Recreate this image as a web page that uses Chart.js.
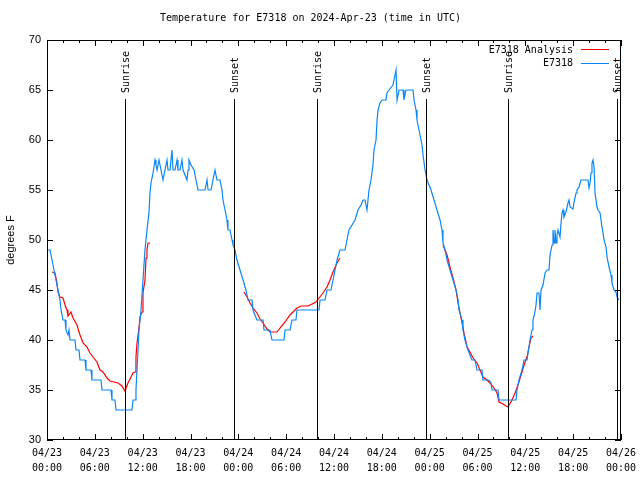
<!DOCTYPE html>
<html>
<head>
<meta charset="utf-8">
<script src="https://cdn.jsdelivr.net/npm/chart.js@4.4.1/dist/chart.umd.min.js"></script>
<style>
  html, body { margin: 0; padding: 0; background: #fff; }
</style>
</head>
<body>
<canvas id="myChart" width="640" height="480"></canvas>
<script>
// hours since 04/23 00:00 UTC
const sensorHours = [0.00, 0.38, 0.63, 0.88, 1.13, 1.38, 1.63, 1.76, 2.01, 2.26, 2.38, 2.63, 2.76, 2.89, 3.51, 3.64, 4.01, 4.14, 4.77, 4.89,
  5.52, 5.64, 6.77, 6.90, 8.03, 8.15, 8.53, 8.66, 10.66, 10.79, 11.04, 11.16, 11.29, 11.54, 11.79, 12.04, 12.29, 12.54, 12.79, 12.92,
  13.05, 13.30, 13.55, 13.67, 13.80, 14.05, 14.30, 14.55, 14.80, 15.05, 15.18, 15.43, 15.68, 15.81, 16.06, 16.31, 16.43, 16.68, 16.93, 17.06,
  17.31, 17.56, 17.69, 17.81, 18.06, 18.44, 18.69, 18.94, 19.82, 20.07, 20.20, 20.57, 20.82, 21.07, 21.32, 21.70, 21.95, 22.08, 22.33, 22.58,
  22.70, 22.96, 23.21, 23.33, 23.58, 23.83, 24.21, 24.59, 24.96, 25.21, 25.72, 25.84, 26.34, 27.10, 27.22, 27.97, 28.22, 29.73, 29.86, 30.48,
  30.73, 31.23, 31.36, 34.12, 34.25, 34.87, 35.12, 35.62, 35.88, 36.13, 36.38, 36.75, 37.38, 37.63, 37.88, 38.26, 38.64, 39.01, 39.39, 39.64,
  39.89, 40.14, 40.39, 40.64, 40.89, 41.02, 41.27, 41.40, 41.52, 41.77, 42.02, 42.52, 42.65, 42.90, 43.40, 43.65, 43.78, 43.91, 44.16, 44.66,
  44.78, 45.03, 45.91, 46.04, 46.29, 46.41, 46.66, 46.79, 47.04, 47.17, 47.42, 47.67, 47.92, 48.17, 48.55, 48.92, 49.30, 49.55, 49.67, 49.93,
  50.18, 50.55, 50.93, 51.31, 51.56, 51.68, 52.06, 52.18, 52.43, 52.81, 53.31, 53.69, 53.94, 54.57, 54.69, 55.44, 55.70, 55.82, 56.57, 56.70,
  58.83, 58.96, 59.21, 59.58, 59.84, 60.21, 60.59, 60.84, 60.96, 61.21, 61.34, 61.47, 61.72, 61.84, 61.97, 62.22, 62.47, 62.72, 62.97, 63.10,
  63.35, 63.47, 63.60, 63.72, 63.85, 63.97, 64.10, 64.35, 64.48, 64.60, 64.73, 64.85, 65.10, 65.35, 65.48, 65.61, 65.98, 66.11, 66.36, 66.48,
  66.73, 66.98, 67.86, 67.99, 68.12, 68.24, 68.36, 68.49, 68.62, 68.74, 68.99, 69.12, 69.37, 69.62, 69.75, 69.87, 70.12, 70.25, 70.50, 70.75,
  70.87, 71.12, 71.37, 71.50, 71.75];
const sensorTemps = [49, 49, 48, 47, 46, 45, 44, 43, 42, 42, 41, 40.5, 41, 40, 40, 39, 39, 38, 38, 37,
  37, 36, 36, 35, 35, 34, 34, 33, 33, 34, 34, 35, 37, 41, 43, 46, 49, 51, 52.7, 54.7,
  55.7, 56.7, 58, 57.5, 57, 58, 57, 56, 57, 58, 57, 57, 59, 57, 57, 58, 57, 57, 58, 57,
  56.5, 56, 57, 58, 57.5, 57, 56, 55, 55, 56, 55, 55, 56, 57, 56, 56, 55, 54, 53, 52,
  51, 51, 50, 49.5, 49, 48, 47, 46, 45, 44, 44, 43, 42, 42, 41, 41, 40, 40, 41, 41,
  42, 42, 43, 43, 44, 44, 45, 45, 46, 47, 48, 49, 49, 50, 51, 51.5, 52, 53, 53.5, 54,
  54, 53, 55, 56, 57.5, 59, 60, 62, 63, 63.7, 64, 64, 64.7, 65, 65.5, 66.5, 67, 64, 65, 65,
  64, 65, 65, 64, 63, 62, 61, 60.5, 59.5, 58.5, 57, 56, 55.5, 55, 54, 53, 52, 51, 49.7, 49,
  48, 47, 46, 45, 44, 43, 42, 41, 40, 39, 38, 38, 37, 37, 36, 36, 35.7, 35, 35, 34,
  34, 35, 36, 37, 38, 38, 40, 41, 42, 42.8, 43.5, 44.7, 44.7, 43, 45, 45.5, 46.7, 47, 47, 48.5,
  49.5, 51, 49.7, 51, 49.7, 50.5, 51, 50.3, 51.7, 52.7, 53, 52.3, 52.8, 53.7, 54, 53.3, 53.1, 53.8, 54.7, 55,
  55.3, 56, 56, 55.2, 55.7, 56.7, 57.7, 58, 57.3, 54.7, 53.3, 53, 52.7, 51.3, 50.7, 50, 49.3, 48.3, 47.3, 46.5,
  45.7, 45, 44.8, 44.3, 44];

// analysis runs, null splits the three runs
const analysisHours = [0.63, 1.00, 1.25, 1.38, 1.63, 2.01, 2.26, 2.51, 2.63, 3.01, 3.26, 3.76, 4.14, 4.52, 5.02, 5.39, 5.77, 6.27, 6.65, 7.02,
  7.53, 7.90, 8.40, 8.91, 9.41, 9.78, 10.16, 10.54, 10.79, 11.04, 11.16, 11.29, 11.54, 11.67, 11.92, 12.04, 12.29, 12.42, 12.54, 12.67, 12.92,
  18.00,
  24.71, 25.09, 25.47, 25.84, 26.34, 26.72, 27.10, 27.60, 27.97, 28.35, 28.85, 29.23, 29.86, 30.48, 30.86, 31.36, 31.86, 32.74, 33.24, 33.74,
  34.12, 34.62, 35.12, 35.50, 35.88, 36.38, 36.75,
  42.00,
  49.67, 50.18, 50.55, 50.93, 51.31, 51.56, 51.81, 52.06, 52.31, 52.69, 53.06, 53.44, 53.94, 54.32, 54.69, 55.19, 55.57, 56.07, 56.45, 56.70,
  57.20, 57.58, 57.83, 58.33, 58.71, 59.08, 59.58, 59.96, 60.21, 60.46, 60.71, 60.96];
const analysisTemps = [46.8, 46.7, 45.7, 44.8, 44.3, 44.2, 43.5, 43, 42.4, 42.8, 42.2, 41.5, 40.5, 39.7, 39.3, 38.7, 38.3, 37.8, 37, 36.8,
  36.2, 35.9, 35.8, 35.7, 35.4, 34.9, 35.7, 36.3, 36.7, 36.8, 38.3, 39.7, 41.2, 42.3, 42.8, 44.7, 46, 48.2, 49, 49.7, 49.7,
  null,
  44.8, 44.3, 43.7, 43.2, 42.7, 42.1, 41.7, 41.1, 40.8, 40.8, 40.8, 41.2, 41.8, 42.5, 42.8, 43.2, 43.4, 43.4, 43.6, 43.8,
  44.2, 44.7, 45.3, 46, 46.8, 47.7, 48.2,
  null,
  49.5, 48.5, 47.3, 46.2, 45, 43.7, 42.7, 41.7, 40.7, 39.3, 38.8, 38.2, 37.7, 37, 36.3, 36, 35.7, 35.2, 34.7, 33.8,
  33.6, 33.4, 33.3, 34, 34.7, 35.5, 36.8, 37.8, 38.3, 39.3, 40.2, 40.4];

const sunHours = [9.82, 23.49, 33.90, 47.58, 57.86, 71.54];
const sunLabels = ['Sunrise', 'Sunset', 'Sunrise', 'Sunset', 'Sunrise', 'Sunset'];
const sunLineTop = 64.1; // degrees F where the marker lines start

const tickDates = ['04/23', '04/23', '04/23', '04/23', '04/24', '04/24', '04/24', '04/24', '04/25', '04/25', '04/25', '04/25', '04/26'];
const tickTimes = ['00:00', '06:00', '12:00', '18:00', '00:00', '06:00', '12:00', '18:00', '00:00', '06:00', '12:00', '18:00', '00:00'];

const seriesNames = ['E7318 Analysis', 'E7318'];
const seriesColors = ['#ff0000', '#0a86f5'];

const mono = 'DejaVu Sans Mono';
const sans = 'Liberation Sans';

const toPoints = (hs, ts) => hs.map((h, i) => ({ x: h, y: ts[i] }));

// frame, inward ticks, sunrise/sunset markers and the in-plot legend
const decorations = {
  id: 'decorations',
  afterDatasetsDraw(chart) {
    const { ctx, chartArea: a, scales: { x, y } } = chart;
    ctx.save();
    ctx.strokeStyle = '#000';
    ctx.lineWidth = 1;

    ctx.beginPath();
    for (let h = 0; h <= 72; h += 2) {
      const px = Math.round(x.getPixelForValue(h)) + 0.5;
      const len = h % 6 === 0 ? 6 : 3;
      ctx.moveTo(px, a.bottom); ctx.lineTo(px, a.bottom - len);
      ctx.moveTo(px, a.top); ctx.lineTo(px, a.top + len);
    }
    for (let t = 30; t <= 70; t += 5) {
      const py = Math.round(y.getPixelForValue(t)) + 0.5;
      ctx.moveTo(a.left, py); ctx.lineTo(a.left + 6, py);
      ctx.moveTo(a.right, py); ctx.lineTo(a.right - 6, py);
    }
    ctx.stroke();
    ctx.strokeRect(a.left + 0.5, a.top + 0.5, a.right - a.left - 1, a.bottom - a.top - 1);

    // sun markers
    ctx.font = `10px "${mono}"`;
    ctx.fillStyle = '#000';
    sunHours.forEach((h, i) => {
      const px = Math.round(x.getPixelForValue(h)) + 0.5;
      ctx.beginPath();
      ctx.moveTo(px, y.getPixelForValue(sunLineTop));
      ctx.lineTo(px, a.bottom);
      ctx.stroke();
      ctx.save();
      ctx.translate(px + 1, y.getPixelForValue(sunLineTop) - 6);
      ctx.rotate(-Math.PI / 2);
      ctx.textAlign = 'left';
      ctx.textBaseline = 'middle';
      ctx.fillText(sunLabels[i], 0, 0);
      ctx.restore();
    });

    // legend
    ctx.textAlign = 'right';
    ctx.textBaseline = 'middle';
    seriesNames.forEach((name, i) => {
      const rowY = 50 + i * 13.5;
      ctx.fillStyle = '#000';
      ctx.fillText(name, 573, rowY);
      ctx.strokeStyle = seriesColors[i];
      ctx.beginPath();
      ctx.moveTo(581, Math.round(rowY) - 0.5);
      ctx.lineTo(609, Math.round(rowY) - 0.5);
      ctx.stroke();
    });
    ctx.restore();
  },
};

const ctx = document.getElementById('myChart').getContext('2d');
const myChart = new Chart(ctx, {
  type: 'line',
  data: {
    datasets: [
      {
        label: seriesNames[1],
        data: toPoints(sensorHours, sensorTemps),
        borderColor: seriesColors[1],
        borderWidth: 1.2,
        pointRadius: 0,
        order: 0,
      },
      {
        label: seriesNames[0],
        data: toPoints(analysisHours, analysisTemps),
        borderColor: seriesColors[0],
        borderWidth: 1.2,
        pointRadius: 0,
        spanGaps: false,
        order: 1,
      },
    ],
  },
  options: {
    responsive: false,
    animation: false,
    layout: { padding: { left: 0, right: 19, top: 0, bottom: 0 } },
    scales: {
      x: {
        type: 'linear',
        min: 0,
        max: 72,
        grid: { display: false, drawTicks: false },
        border: { display: false },
        afterFit: (scale) => {
          scale.height = 40;
          scale.paddingLeft = 0;
          scale.paddingRight = 0;
        },
        ticks: {
          stepSize: 6,
          autoSkip: false,
          maxRotation: 0,
          padding: 6,
          color: '#000',
          font: { family: mono, size: 10, lineHeight: 1.5 },
          callback: (v, i) => [tickDates[i], tickTimes[i]],
        },
      },
      y: {
        min: 30,
        max: 70,
        grid: { display: false, drawTicks: false },
        border: { display: false },
        afterFit: (scale) => {
          scale.width = 47;
          scale.paddingTop = 0;
          scale.paddingBottom = 0;
        },
        ticks: {
          stepSize: 5,
          padding: 6,
          color: '#000',
          font: { family: sans, size: 11 },
        },
        title: {
          display: true,
          text: 'degrees F',
          color: '#000',
          font: { family: sans, size: 11 },
          padding: { top: 4, bottom: 0 },
        },
      },
    },
    plugins: {
      legend: { display: false },
      tooltip: { enabled: false },
      title: {
        display: true,
        text: 'Temperature for E7318 on 2024-Apr-23 (time in UTC)',
        color: '#000',
        font: { family: mono, size: 10, weight: 'normal', lineHeight: 1.2 },
        padding: { top: 12, bottom: 16 },
      },
    },
  },
  plugins: [decorations],
});
</script>
</body>
</html>
